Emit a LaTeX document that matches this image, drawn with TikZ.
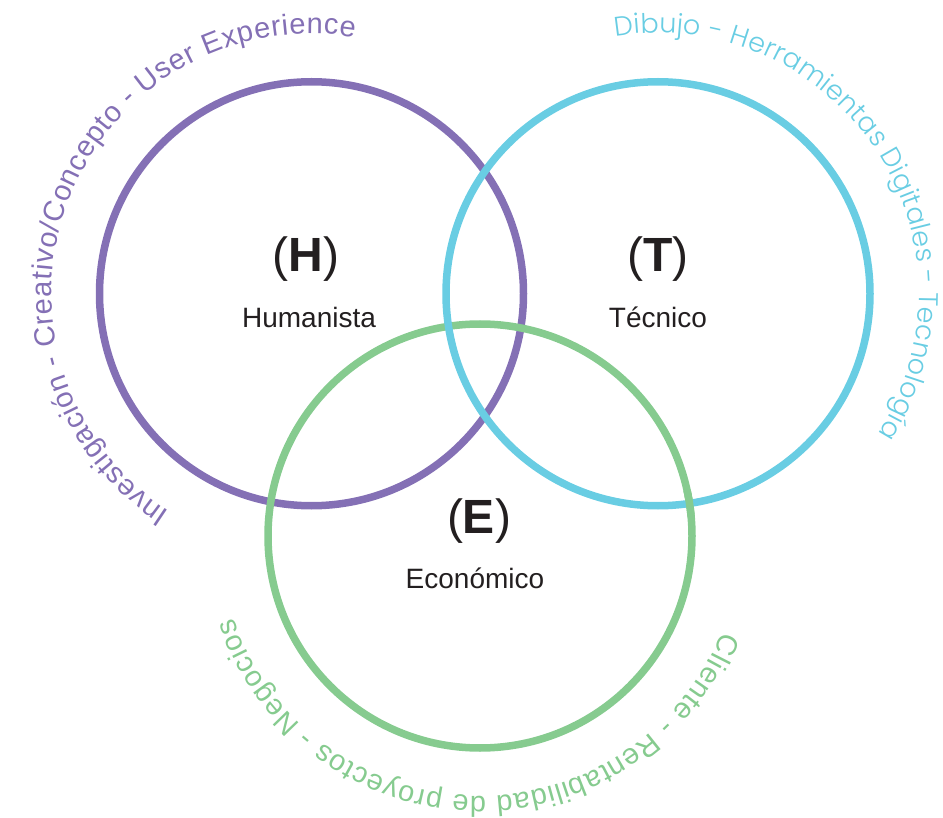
\documentclass[tikz,border=0pt]{standalone}
\usepackage{fontspec}
\setmainfont{Liberation Sans}
\newfontfamily\cyanfont{Poppins}[UprightFont={* Light}]
\usetikzlibrary{decorations.text}
\definecolor{purp}{RGB}{132,112,181}
\definecolor{cyanc}{RGB}{105,205,227}
\definecolor{greenc}{RGB}{134,203,143}
\definecolor{ink}{RGB}{35,31,32}
\begin{document}
\begin{tikzpicture}[x=1pt,y=1pt,
  ring/.style={line width=7.5pt},
  big/.style={font=\fontsize{48}{50}\selectfont, text=ink, inner sep=0},
  lbl/.style={font=\fontsize{28}{30}\selectfont, text=ink, inner sep=0, anchor=base},
]
\useasboundingbox (0,0) rectangle (943,-818);
\coordinate (cH) at (311.5,-293.75);
\coordinate (cT) at (658,-293.75);
\coordinate (cE) at (480,-536);
\draw[ring, purp] (cH) circle[radius=212];
\draw[ring, greenc] (cE) circle[radius=212];
\draw[ring, cyanc] (cT) circle[radius=212];
\begin{scope}
\clip (689.5,-503.4) circle[radius=14];
\draw[ring, greenc] (cE) circle[radius=212];
\end{scope}

\node[big] (hH) at (306,-259) {(\textbf{H})};
\node[lbl] (hL) at (309,-328) {Humanista};
\node[big] (tT) at (658,-259) {(\textbf{T})};
\node[lbl] (tL) at (658,-328) {Técnico};
\node[big] (eE) at (479,-521) {(\textbf{E})};
\node[lbl] (eL) at (475,-588) {Económico};

\path[decorate, decoration={text along path, text align={fit to path}, text color=purp,
  text={|\fontsize{29}{30}\selectfont|Investigación - Creativo/Concepto - User Experience}}]
  ([shift={(237:260)}]cH) arc[start angle=237, end angle=80.5, radius=260];
\path[decorate, decoration={text along path, text align={fit to path}, text color=cyanc,
  text={|\cyanfont\fontsize{27}{28}\selectfont|Dibujo - Herramientas Digitales - Tecnología}}]
  ([shift={(99.4:261)}]cT) arc[start angle=99.4, end angle=-32.5, radius=261];
\path[decorate, decoration={text along path, text align={fit to path}, text color=greenc,
  text={|\fontsize{29}{30}\selectfont|Cliente - Rentabilidad de proyectos - Negocios}}]
  ([shift={(-21.5:260)}]cE) arc[start angle=-21.5, end angle=-161.6, radius=260];
\end{tikzpicture}
\end{document}
